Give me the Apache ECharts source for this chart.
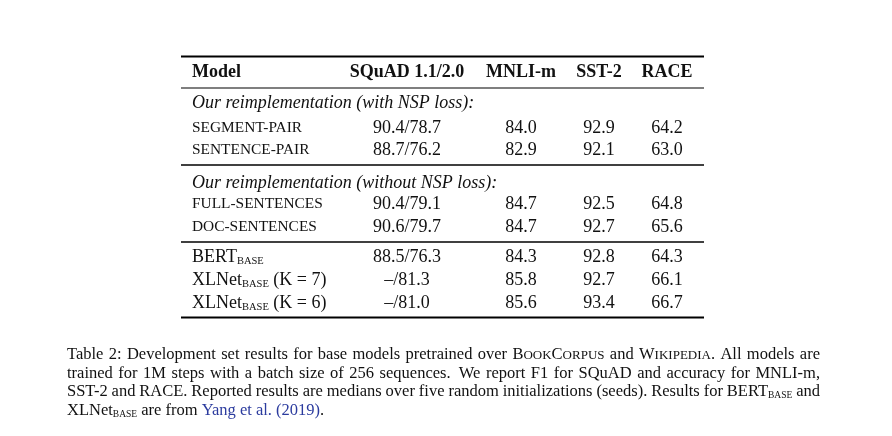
<!DOCTYPE html>
<html>
<head>
<meta charset="utf-8">
<script src="https://cdn.jsdelivr.net/npm/echarts@6/dist/echarts.min.js"></script>
<style>
html,body{margin:0;padding:0;background:#fff;}
#chart{width:892px;height:436px;}
</style>
</head>
<body>
<div id="chart"></div>
<script>
// ---------- data ----------
const headers = ['Model', 'SQuAD 1.1/2.0', 'MNLI-m', 'SST-2', 'RACE'];
const groupTitles = ['Our reimplementation (with NSP loss):', 'Our reimplementation (without NSP loss):'];
const models = ['SEGMENT-PAIR', 'SENTENCE-PAIR', 'FULL-SENTENCES', 'DOC-SENTENCES', 'BERT', 'XLNet', 'XLNet'];
const modelSmallCaps = [true, true, true, true, false, false, false];
const modelSubs = ['', '', '', '', 'BASE', 'BASE', 'BASE'];
const modelSuffix = ['', '', '', '', '', ' (K = 7)', ' (K = 6)'];
const squad = ['90.4/78.7', '88.7/76.2', '90.4/79.1', '90.6/79.7', '88.5/76.3', '\u2013/81.3', '\u2013/81.0'];
const mnli = [84.0, 82.9, 84.7, 84.7, 84.3, 85.8, 85.6];
const sst2 = [92.9, 92.1, 92.5, 92.7, 92.8, 92.7, 93.4];
const race = [64.2, 63.0, 64.8, 65.6, 64.3, 66.1, 66.7];
const captionLines = [
  'Table 2: Development set results for base models pretrained over {sc:BookCorpus} and {sc:Wikipedia.} All models are',
  'trained for 1M steps with a batch size of 256 sequences.  We report F1 for SQuAD and accuracy for MNLI-m,',
  'SST-2 and RACE. Reported results are medians over five random initializations (seeds). Results for BERT{sub:BASE} and',
  'XLNet{sub:BASE} are from {link:Yang} {link:et} {link:al.} {link:(2019)}.'
];

// ---------- layout ----------
const FAMILY = '"Liberation Serif", "Times New Roman", serif';
const INK = '#111';
const LINK = '#2b3b9e';
const tableLeft = 181, tableRight = 704;
const nameX = 192;
const colCenters = [null, 407, 521, 599, 667];
const headerY = 72;
const groupY = [103, 183];
const rowY = [128, 150, 204, 227, 257, 280, 303];
const rules = [
  {y: 56.5, w: 2.2},
  {y: 88, w: 1.2},
  {y: 165, w: 1.6},
  {y: 242, w: 1.6},
  {y: 317.5, w: 2.2}
];
const cellSize = 18, scSize = 15.4, subSize = 10.5;
const capSize = 16.5, capScSize = 13, capSubSize = 9.5;
const capLeft = 67, capRight = 820, capY = [355, 373.5, 392, 410.5];

const ctx = document.createElement('canvas').getContext('2d');
function fontStr(s) { return (s.style || 'normal') + ' ' + (s.weight || 'normal') + ' ' + s.size + 'px ' + FAMILY; }
function measure(t, s) { ctx.font = fontStr(s); return ctx.measureText(t).width; }
const els = [];
function addText(t, x, y, s) {
  els.push({
    type: 'text', x: x, y: y, silent: true,
    style: {
      text: t, fill: s.color || INK, fontSize: s.size, fontFamily: FAMILY,
      fontWeight: s.weight || 'normal', fontStyle: s.style || 'normal',
      textAlign: 'left', align: 'left', textVerticalAlign: 'middle', verticalAlign: 'middle'
    }
  });
}
function runsWidth(runs) { return runs.reduce((a, r) => a + measure(r.t, r), 0); }
function drawRuns(runs, x, y, anchor) {
  const w = runsWidth(runs);
  let cx = anchor === 'center' ? x - w / 2 : x;
  runs.forEach(r => { addText(r.t, cx, y + (r.dy || 0), r); cx += measure(r.t, r); });
}

// rules
rules.forEach(r => els.push({
  type: 'line', silent: true,
  shape: {x1: tableLeft, y1: r.y, x2: tableRight, y2: r.y},
  style: {stroke: '#000', lineWidth: r.w}
}));

// header
drawRuns([{t: headers[0], size: cellSize, weight: 'bold'}], nameX, headerY, 'left');
for (let c = 1; c < headers.length; c++) {
  drawRuns([{t: headers[c], size: cellSize, weight: 'bold'}], colCenters[c], headerY, 'center');
}
// group titles
groupTitles.forEach((g, i) => drawRuns([{t: g, size: cellSize, style: 'italic'}], nameX, groupY[i], 'left'));

// rows
models.forEach((m, i) => {
  const runs = [];
  if (modelSmallCaps[i]) runs.push({t: m, size: scSize});
  else runs.push({t: m, size: cellSize});
  if (modelSubs[i]) runs.push({t: modelSubs[i], size: subSize, dy: 4});
  if (modelSuffix[i]) runs.push({t: modelSuffix[i], size: cellSize});
  drawRuns(runs, nameX, rowY[i], 'left');
  const vals = [squad[i], mnli[i].toFixed(1), sst2[i].toFixed(1), race[i].toFixed(1)];
  vals.forEach((v, k) => drawRuns([{t: v, size: cellSize}], colCenters[k + 1], rowY[i], 'center'));
});

// caption
function parseWord(word) {
  const runs = [];
  const re = /\{(sc|sub|link):([^}]*)\}|([^{]+)/g;
  let m;
  while ((m = re.exec(word))) {
    if (m[3]) runs.push({t: m[3], size: capSize});
    else if (m[1] === 'link') runs.push({t: m[2], size: capSize, color: LINK});
    else if (m[1] === 'sub') runs.push({t: m[2], size: capSubSize, dy: 3.5});
    else if (m[1] === 'sc') {
      const parts = m[2].match(/[A-Z.]+|[a-z]+/g);
      parts.forEach(p => {
        if (/[a-z]/.test(p)) runs.push({t: p.toUpperCase(), size: capScSize, dy: 0.9});
        else runs.push({t: p, size: capSize});
      });
    }
  }
  return runs;
}
captionLines.forEach((line, li) => {
  const words = line.split(' ');
  // gaps: double space gets extra weight
  const items = [];
  let extra = 0;
  words.forEach(w => {
    if (w === '') { extra += 1; return; }
    items.push({runs: parseWord(w), weight: 1 + extra * 0.5});
    extra = 0;
  });
  const justify = li < captionLines.length - 1;
  const natural = items.reduce((a, it) => a + runsWidth(it.runs), 0);
  const space = measure(' ', {size: capSize});
  let gapUnit = space;
  if (justify) {
    const totalW = items.slice(1).reduce((a, it) => a + it.weight, 0);
    gapUnit = (capRight - capLeft - natural) / totalW;
  }
  let x = capLeft;
  items.forEach((it, k) => {
    if (k > 0) x += gapUnit * it.weight;
    drawRuns(it.runs, x, capY[li], 'left');
    x += runsWidth(it.runs);
  });
});

const chart = echarts.init(document.getElementById('chart'), null, {renderer: 'canvas'});
chart.setOption({
  backgroundColor: '#fff',
  animation: false,
  graphic: {elements: els}
});
</script>
</body>
</html>
